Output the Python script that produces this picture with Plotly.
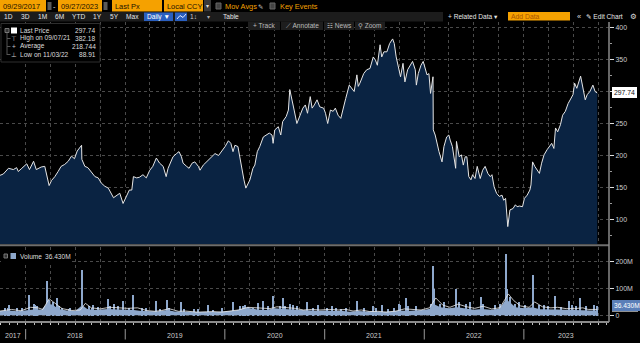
import plotly.graph_objects as go
import pandas as pd

# ---------------- data ----------------
price_dates = [
    "2017-09-29","2017-10-11","2017-10-30","2017-11-17","2017-11-29","2017-12-05","2017-12-18",
    "2018-01-05","2018-01-15","2018-01-30","2018-02-09","2018-02-16","2018-02-27","2018-03-12",
    "2018-03-19","2018-03-28","2018-04-06","2018-04-18","2018-04-30","2018-05-11","2018-05-24",
    "2018-06-06","2018-06-18","2018-06-29","2018-07-09","2018-07-25","2018-07-26","2018-08-06",
    "2018-08-17","2018-08-31","2018-09-12","2018-09-24","2018-10-05","2018-10-18","2018-10-31",
    "2018-11-19","2018-11-30","2018-12-12","2018-12-24","2019-01-04","2019-01-16","2019-01-25",
    "2019-01-31","2019-02-12","2019-02-22","2019-03-07","2019-03-19","2019-04-01","2019-04-12",
    "2019-04-25","2019-05-07","2019-05-20","2019-05-31","2019-06-07","2019-06-17","2019-06-25",
    "2019-07-08","2019-07-17","2019-07-26","2019-08-01","2019-08-14","2019-08-23","2019-09-03",
    "2019-09-13","2019-09-26","2019-10-02","2019-10-14","2019-10-25","2019-11-08","2019-11-26",
    "2019-12-09","2019-12-20","2020-01-02","2020-01-14","2020-01-23","2020-01-31","2020-02-07",
    "2020-02-18","2020-02-25","2020-03-02","2020-03-11","2020-03-18","2020-03-27","2020-04-02",
    "2020-04-13","2020-04-20","2020-04-29","2020-05-08","2020-05-21","2020-06-01","2020-06-12",
    "2020-06-22","2020-06-26","2020-07-02","2020-07-15","2020-07-24","2020-07-31","2020-08-13",
    "2020-08-21","2020-08-26","2020-09-02","2020-09-11","2020-09-21","2020-10-02","2020-10-13",
    "2020-10-22","2020-10-30","2020-11-09","2020-11-16","2020-11-24","2020-12-04","2020-12-14",
    "2020-12-28","2021-01-04","2021-01-12","2021-01-22","2021-02-01","2021-02-09","2021-02-19",
    "2021-03-01","2021-03-10","2021-03-19","2021-04-01","2021-04-09","2021-04-19","2021-04-29",
    "2021-05-04","2021-05-10","2021-05-24","2021-06-04","2021-06-16","2021-06-28","2021-07-06",
    "2021-07-13","2021-07-23","2021-07-29","2021-08-06","2021-08-17","2021-08-27","2021-09-07",
    "2021-09-13","2021-09-20","2021-09-30","2021-10-06","2021-10-15","2021-10-22","2021-11-01",
    "2021-11-10","2021-11-19","2021-11-29","2021-12-03","2021-12-10","2021-12-20","2021-12-28",
    "2022-01-05","2022-01-11","2022-01-18","2022-01-24","2022-02-02","2022-02-03","2022-02-10",
    "2022-02-16","2022-02-24","2022-03-07","2022-03-14","2022-03-24","2022-04-01","2022-04-06",
    "2022-04-14","2022-04-26","2022-04-29","2022-05-09","2022-05-17","2022-05-24","2022-05-31",
    "2022-06-06","2022-06-13","2022-06-21","2022-06-27","2022-07-06","2022-07-14","2022-07-25",
    "2022-08-03","2022-08-12","2022-08-22","2022-08-31","2022-09-06","2022-09-14","2022-09-23",
    "2022-10-03","2022-10-13","2022-10-19","2022-10-26","2022-11-03","2022-11-08","2022-11-11",
    "2022-11-22","2022-12-01","2022-12-07","2022-12-16","2022-12-27","2023-01-03","2023-01-13",
    "2023-01-23","2023-01-27","2023-02-02","2023-02-10","2023-02-21","2023-02-27","2023-03-07",
    "2023-03-16","2023-03-27","2023-04-04","2023-04-13","2023-04-21","2023-04-27","2023-05-05",
    "2023-05-15","2023-05-23","2023-06-02","2023-06-12","2023-06-20","2023-06-30","2023-07-06",
    "2023-07-14","2023-07-28","2023-08-03","2023-08-14","2023-08-21","2023-08-31","2023-09-11",
    "2023-09-19","2023-09-27",
]
price_vals = [
    169,171,180,178,181,175,180,
    187,178,191,178,180,182,183,
    170,153,161,167,175,183,186,
    191,199,195,207,216,194,183,
    181,174,167,165,157,152,149,
    134,138,141,125,136,146,146,
    167,165,166,170,165,177,183,
    196,188,183,167,180,190,198,
    203,206,198,188,183,180,188,
    190,183,177,185,190,196,203,
    200,206,214,223,219,206,216,
    214,196,183,162,149,156,162,
    180,185,206,214,229,232,235,
    232,219,240,245,232,253,261,
    271,303,287,271,250,261,274,
    279,266,292,274,279,287,276,
    274,266,250,271,269,274,263,
    258,276,289,310,305,300,326,
    308,313,328,334,336,354,349,
    341,373,354,362,362,375,382.18,
    375,354,331,323,344,315,334,
    341,347,334,310,328,341,347,
    334,326,328,297,323,240,232,
    219,206,190,214,229,232,224,
    214,180,222,198,201,185,198,
    198,167,162,170,164,183,164,
    177,183,172,167,170,151,141,
    136,138,130,133,88.91,102,115,
    117,123,120,121,120,133,138,
    146,154,190,183,175,172,188,
    201,209,214,219,211,243,237,
    248,263,269,281,287,295,313,
    305,324,310,287,295,300,310,
    300,297.74,
]

# volume (millions)
vol_base_dates = [
    "2017-09-29","2017-11-01","2017-12-01","2018-01-02","2018-02-01","2018-03-01","2018-03-20",
    "2018-04-10","2018-05-01","2018-06-01","2018-07-02","2018-07-27","2018-08-15","2018-09-04",
    "2018-10-01","2018-11-01","2018-12-03","2019-01-02","2019-02-01","2019-03-01","2019-04-01",
    "2019-05-01","2019-06-03","2019-07-01","2019-08-01","2019-09-03","2019-10-01","2019-11-01",
    "2019-12-02","2020-01-02","2020-02-03","2020-03-02","2020-03-20","2020-04-15","2020-05-01",
    "2020-06-01","2020-07-01","2020-08-03","2020-09-01","2020-10-01","2020-11-02","2020-12-01",
    "2021-01-04","2021-02-01","2021-03-01","2021-04-01","2021-05-03","2021-06-01","2021-07-01",
    "2021-08-02","2021-09-01","2021-10-01","2021-11-01","2021-12-01","2022-01-03","2022-02-01",
    "2022-02-10","2022-03-01","2022-04-01","2022-05-02","2022-06-01","2022-07-01","2022-08-01",
    "2022-09-01","2022-10-03","2022-10-28","2022-11-15","2022-12-01","2023-01-03","2023-02-01",
    "2023-03-01","2023-04-03","2023-05-01","2023-06-01","2023-07-03","2023-08-01","2023-09-01",
    "2023-09-27",
]
vol_base_vals = [
    16,18,15,20,22,22,45,
    40,24,18,16,38,24,20,
    22,24,22,22,20,16,15,
    15,20,14,14,12,12,13,
    12,15,17,24,28,25,21,
    20,26,24,22,20,19,17,
    18,16,17,13,16,14,15,
    12,14,18,16,18,21,26,
    40,30,26,30,26,21,24,
    21,25,60,45,30,26,30,
    23,21,22,21,19,19,18,
    18,
]
vol_spike_dates = [
    "2017-10-16","2017-11-02","2017-12-01","2017-12-18","2018-01-12","2018-02-01","2018-02-12",
    "2018-03-19","2018-03-20","2018-03-21","2018-03-26","2018-04-11","2018-04-26","2018-05-15",
    "2018-06-08","2018-07-26","2018-07-27","2018-08-20","2018-09-05","2018-10-31","2018-11-20",
    "2018-12-24","2019-01-31","2019-03-05","2019-04-25","2019-06-03","2019-07-25","2019-09-10",
    "2019-10-31","2019-12-20","2020-01-30","2020-03-16","2020-04-30","2020-05-19","2020-06-26",
    "2020-07-31","2020-08-27","2020-09-08","2020-10-30","2020-12-09","2021-01-28","2021-03-01",
    "2021-04-29","2021-06-28","2021-07-29","2021-09-13","2021-09-30","2021-10-04","2021-10-26",
    "2021-12-03","2022-02-03","2022-02-04","2022-02-07","2022-03-14","2022-04-28","2022-06-17",
    "2022-07-28","2022-09-16","2022-10-27","2022-10-28","2022-11-01","2022-11-10","2022-12-15",
    "2023-02-02","2023-03-17","2023-04-27","2023-06-16","2023-07-27","2023-08-18","2023-09-27",
]
vol_spike_vals = [
    28,42,30,25,78,45,35,
    88,130,106,60,50,68,30,
    25,170,75,35,40,63,45,
    55,77,30,54,58,50,25,
    42,30,51,42,48,57,75,
    65,45,40,50,40,38,25,
    57,35,40,30,45,40,67,
    35,188,100,60,50,102,50,
    72,40,232,120,100,70,50,
    153,40,75,57,67,35,36.43,
]
vol_small_dates = [
    "2017-10-27","2017-12-20","2018-02-06","2018-05-02","2018-06-12","2018-08-31","2018-09-24",
    "2018-11-08","2018-12-07","2019-01-16","2019-03-19","2019-05-10","2019-06-12","2019-08-05",
    "2019-09-26","2019-11-20","2020-02-25","2020-03-09","2020-03-25","2020-04-14","2020-06-08",
    "2020-07-20","2020-08-10","2020-09-21","2020-11-20","2021-01-08","2021-02-12","2021-03-22",
    "2021-05-25","2021-07-08","2021-08-20","2021-11-03","2022-01-24","2022-03-01","2022-05-10",
    "2022-06-03","2022-08-04","2022-10-05","2022-12-01","2023-01-05","2023-02-24","2023-03-31",
    "2023-05-16","2023-06-28","2023-07-10","2023-09-15",
]
vol_small_vals = [
    30,28,40,35,30,28,32,
    35,35,30,28,25,30,25,
    25,22,38,35,33,30,35,
    38,35,35,30,30,28,30,
    28,28,25,35,45,45,50,
    45,45,45,45,40,42,35,
    32,40,35,40,
]
vol_ma_dates = [
    "2017-09-29","2017-11-10","2017-12-15","2018-01-19","2018-02-15","2018-03-05","2018-03-28",
    "2018-04-20","2018-05-15","2018-06-20","2018-07-20","2018-08-08","2018-08-30","2018-10-01",
    "2018-11-05","2018-12-10","2019-01-10","2019-02-15","2019-03-20","2019-04-20","2019-05-15",
    "2019-06-10","2019-07-15","2019-08-10","2019-09-20","2019-10-25","2019-11-20","2019-12-20",
    "2020-01-20","2020-02-20","2020-03-25","2020-04-25","2020-05-25","2020-06-15","2020-07-10",
    "2020-08-10","2020-09-15","2020-10-15","2020-11-15","2020-12-15","2021-01-20","2021-02-20",
    "2021-03-20","2021-04-15","2021-05-15","2021-06-15","2021-07-15","2021-08-15","2021-09-20",
    "2021-10-20","2021-11-20","2021-12-20","2022-01-20","2022-02-12","2022-03-10","2022-04-05",
    "2022-05-05","2022-06-05","2022-07-05","2022-08-05","2022-09-05","2022-10-05","2022-11-05",
    "2022-11-25","2022-12-20","2023-01-20","2023-02-10","2023-03-10","2023-04-10","2023-05-05",
    "2023-06-05","2023-07-05","2023-08-05","2023-08-25","2023-09-27",
]
vol_ma_vals = [
    16,22,17,30,28,22,62,
    45,25,18,20,45,28,24,
    30,28,26,28,18,15,18,
    25,15,16,12,13,14,12,
    16,20,30,28,28,25,32,
    30,26,20,22,20,22,20,
    22,16,20,14,15,12,16,
    24,22,20,28,65,38,30,
    42,32,26,34,24,28,80,
    55,35,30,50,32,28,30,
    25,25,28,22,22,
]

year_labels = ["2017", "2018", "2019", "2020", "2021", "2022", "2023"]
year_starts = ["2017-09-29", "2018-01-01", "2019-01-01", "2020-01-01", "2021-01-01", "2022-01-01", "2023-01-01"]
year_ends = ["2018-01-01", "2019-01-01", "2020-01-01", "2021-01-01", "2022-01-01", "2023-01-01", "2023-11-09"]
price_ticks = [100, 150, 200, 250, 300, 350, 400]
price_tick_text = ["100", "150", "200", "250", "", "350", "400"]  # 300 hidden by last-price box
vol_ticks = [0, 100, 200]
vol_tick_text = ["0", "100M", "200M"]

legend_rows = [("Last Price", "297.74"), ("High on 09/07/21", "382.18"),
               ("Average", "218.744"), ("Low on 11/03/22", "88.91")]

# ---------------- layout helpers ----------------
FONT = "Liberation Sans, Arial, DejaVu Sans, sans-serif"
L, R, T, B = 0, 609, 22, 321


def X(px):
    return (px - L) / (R - L)


def Y(py):
    return (B - py) / (B - T)


shapes = []
ann = []


def rect(x0, y0, x1, y1, fill, line=None, lw=1):
    shapes.append(dict(type="rect", xref="paper", yref="paper", x0=X(x0), x1=X(x1),
                       y0=Y(y1), y1=Y(y0), fillcolor=fill, layer="above",
                       line=dict(width=0) if line is None else dict(color=line, width=lw)))


def hline(x0, x1, y, color, w=1):
    shapes.append(dict(type="line", xref="paper", yref="paper", x0=X(x0), x1=X(x1),
                       y0=Y(y), y1=Y(y), line=dict(color=color, width=w), layer="above"))


def vline(x, y0, y1, color, w=1):
    shapes.append(dict(type="line", xref="paper", yref="paper", x0=X(x), x1=X(x),
                       y0=Y(y0), y1=Y(y1), line=dict(color=color, width=w), layer="above"))


def text(x, y, s, color="#dddddd", size=8, anchor="left", **kw):
    ann.append(dict(xref="paper", yref="paper", x=X(x), y=Y(y), text=s, showarrow=False,
                    xanchor=anchor, yanchor="middle", borderpad=0,
                    font=dict(size=size, color=color, family=FONT), **kw))


ORANGE = "#f5a100"
DARK = "#1a1100"
TB = 7.4  # toolbar font size
LG = 6.6  # legend font size

# ---- toolbar row 1 ----
rect(0, 0, 46, 11.5, ORANGE); text(1.5, 6, "09/29/2017", DARK, TB)
rect(47.5, 2, 51.5, 10, "#5a5a5a")
text(54.5, 6, "-", "#dddddd", TB, "center")
rect(58, 0, 102, 11.5, ORANGE); text(59.5, 6, "09/27/2023", DARK, TB)
rect(103.5, 2, 107.5, 10, "#5a5a5a")
rect(112, 0, 162, 11.5, ORANGE); text(114, 6, "Last Px", DARK, TB)
rect(164, 0, 203, 11.5, ORANGE); text(165.5, 6, "Local CCY", DARK, TB)
rect(204, 0, 211, 11.5, "#3a3a3a"); text(207.5, 6, "▾", "#dddddd", 6, "center")
rect(216, 3, 221, 9, "#444444", "#666666")
text(224, 6, "Mov Avgs", ORANGE, TB)
text(257, 6, "✎", "#cccccc", 6.5)
rect(270, 3, 275, 9, "#444444", "#666666")
text(279, 6, "Key Events", ORANGE, TB)

# ---- toolbar row 2 ----
rect(0, 12, 443, 21.5, "#1c1c1c")
for lab, cx in [("1D", 8.5), ("3D", 25), ("1M", 42), ("6M", 59.5), ("YTD", 78),
                ("1Y", 97.5), ("5Y", 114.5), ("Max", 132.5)]:
    text(cx, 16.8, lab, "#e6e6e6", 6.6, "center")
rect(144, 12.5, 173, 21, "#2a5fc0"); text(158.5, 16.8, "Daily ▼", "#ffffff", 6.6, "center")
rect(175, 12.5, 187, 21, "#2a5fc0")
shapes.append(dict(type="path", xref="paper", yref="paper", layer="above",
                   path=f"M {X(177)} {Y(19)} L {X(180)} {Y(15.5)} L {X(183)} {Y(17.5)} L {X(186)} {Y(14)}",
                   line=dict(color="#e0e8ff", width=1)))
text(193, 16.8, "1↕", "#cccccc", 6.6, "center")
text(208.5, 16.8, "▾", "#aaaaaa", 6, "center")
text(230.5, 16.8, "Table", "#e6e6e6", 6.6, "center")
text(473, 16, "+ Related Data ▾", "#e6e6e6", 6.6, "center")
rect(508, 12, 570, 20.5, ORANGE); text(510, 16.2, "Add Data", "#a85400", 6.8)
text(579, 16, "«", "#dddddd", 7.5, "center")
text(585, 16, "✎ Edit Chart", "#e6e6e6", 6.6)
text(633, 16, "⚙", "#dddddd", 7.5, "center")

# ---- toolbar row 3 (over chart) ----
for x0, x1, lab in [(248, 280, "+ Track"), (281, 323, "⟋ Annotate"),
                    (324, 354, "☷ News"), (355, 385, "⚲ Zoom")]:
    rect(x0, 21.5, x1, 30, "#1e1e1e")
    text((x0 + x1) / 2, 25.8, lab, "#bbbbbb", 6.6, "center")

# ---- price legend box ----
rect(1, 23.5, 100, 62, "#000000", "#2e2e2e")
vline(7, 28, 55, "#555555")
rect(5, 28.5, 9, 32.5, "#333333", "#777777")
for i, (lab, val) in enumerate(legend_rows):
    yy = 30.5 + 8 * i
    if i > 0:
        hline(7, 10.5, yy, "#555555")
    text(19, yy, lab, "#dddddd", LG)
    text(97, yy, val, "#dddddd", LG, "right")
rect(11, 27.5, 17, 33.5, "#ffffff")
text(13.5, 38.5, "⊤", "#cccccc", 6.5, "center")
text(13.5, 46.5, "+", "#cccccc", 6.5, "center")
text(13.5, 54.5, "⊥", "#cccccc", 6.5, "center")

# ---- volume legend ----
rect(1, 250.5, 70, 262, "#000000")
rect(4, 254, 7.5, 258, "#333333", "#777777")
rect(10.5, 253, 16, 259, "#8ea8cc")
text(19, 256, "Volume", "#dddddd", LG)
text(44, 256, "36.430M", "#dddddd", LG)

# ---- frame lines ----
hline(0, 609, 245.3, "#6e6e6e", 2)
vline(609, 22, 322, "#8a8a8a", 1.5)

# ---- year labels and separators (positions derived from the date lists) ----
for lab, s, e in zip(year_labels, year_starts, year_ends):
    mid = pd.Timestamp(s) + (pd.Timestamp(e) - pd.Timestamp(s)) / 2
    ann.append(dict(xref="x", yref="paper", x=mid.strftime("%Y-%m-%d"), y=Y(335), text=lab,
                    showarrow=False, xanchor="center", yanchor="middle",
                    font=dict(size=7, color="#cccccc", family=FONT)))
for s in year_starts[1:]:
    shapes.append(dict(type="line", xref="x", yref="paper", x0=s, x1=s, y0=Y(329), y1=Y(339.5),
                       line=dict(color="#9a9a9a", width=1), layer="above"))

# ---- right value labels ----
ann.append(dict(xref="paper", yref="y", x=X(612), y=price_vals[-1], text="297.74", showarrow=False,
                xanchor="left", yanchor="middle", bgcolor="#ffffff", bordercolor="#ffffff", borderpad=1,
                font=dict(size=6.8, color="#111111", family=FONT)))
shapes.append(dict(type="rect", xref="paper", yref="y2", x0=X(612), x1=X(638), y0=vol_ma_vals[-1] - 8,
                   y1=vol_ma_vals[-1] + 4, fillcolor="#ffffff", line=dict(width=0), layer="above"))
ann.append(dict(xref="paper", yref="y2", x=X(612), y=vol_spike_vals[-1], text="36.430M", showarrow=False,
                xanchor="left", yanchor="middle", bgcolor="#5a7fb8", bordercolor="#5a7fb8", borderpad=1,
                font=dict(size=6.6, color="#ffffff", family=FONT)))

# ---------------- traces ----------------
VCOL = "#8ea8cc"
fig = go.Figure()
fig.add_trace(go.Scatter(x=price_dates, y=price_vals, mode="lines", xaxis="x", yaxis="y",
                         line=dict(color="#e6e6e6", width=1), fill="tozeroy", fillcolor="#0a2342",
                         hoverinfo="skip"))
fig.add_trace(go.Scatter(x=vol_base_dates, y=vol_base_vals, mode="lines", xaxis="x", yaxis="y2",
                         line=dict(width=0, color=VCOL), fill="tozeroy", fillcolor=VCOL,
                         hoverinfo="skip"))
fig.add_trace(go.Bar(x=vol_small_dates, y=vol_small_vals, xaxis="x", yaxis="y2",
                     width=4 * 86400000, marker=dict(color=VCOL, line=dict(width=0)),
                     hoverinfo="skip"))
fig.add_trace(go.Bar(x=vol_spike_dates, y=vol_spike_vals, xaxis="x", yaxis="y2",
                     width=4 * 86400000, marker=dict(color=VCOL, line=dict(width=0)),
                     hoverinfo="skip"))
fig.add_trace(go.Scatter(x=vol_ma_dates, y=vol_ma_vals, mode="lines", xaxis="x", yaxis="y2",
                         line=dict(color="#eeeeee", width=0.8), hoverinfo="skip"))

GRID = "#4a4a4a"
fig.update_layout(
    width=640, height=343,
    margin=dict(l=L, r=640 - R, t=T, b=343 - B),
    paper_bgcolor="#000000", plot_bgcolor="#000000",
    showlegend=False, hovermode=False, bargap=0, barmode="overlay",
    font=dict(family=FONT, color="#cccccc", size=7),
    xaxis=dict(type="date", range=["2017-09-29", "2023-11-09"], domain=[0, 1], anchor="y2",
               dtick="M3", tick0="2017-10-01", showgrid=True, gridcolor=GRID, griddash="dot",
               gridwidth=1, showticklabels=False, ticks="outside", ticklen=2, tickcolor="#cccccc",
               showline=True, linecolor="#8a8a8a", linewidth=2, zeroline=False,
               minor=dict(dtick="M1", ticks="outside", ticklen=2, tickcolor="#bbbbbb", showgrid=False)),
    yaxis=dict(domain=[Y(244), 1], range=[61.7, 408.6], side="right", anchor="x",
               tickvals=price_ticks, ticktext=price_tick_text, showgrid=True, gridcolor=GRID,
               griddash="dot", gridwidth=1,
               ticks="outside", ticklen=4, tickcolor="#dddddd", zeroline=False,
               tickfont=dict(size=7, color="#cccccc", family=FONT),
               showline=False,
               minor=dict(dtick=25, tick0=0, ticks="outside", ticklen=2, tickcolor="#999999", showgrid=False)),
    yaxis2=dict(domain=[0, Y(246.5)], range=[-21.3, 257.7], side="right", anchor="x",
                tickvals=vol_ticks, ticktext=vol_tick_text, showgrid=True, gridcolor=GRID,
                griddash="dot", gridwidth=1, ticks="outside", ticklen=4, tickcolor="#dddddd",
                zeroline=False, tickfont=dict(size=7, color="#cccccc", family=FONT), showline=False),
    shapes=shapes, annotations=ann,
)

fig.write_html("out.html")
